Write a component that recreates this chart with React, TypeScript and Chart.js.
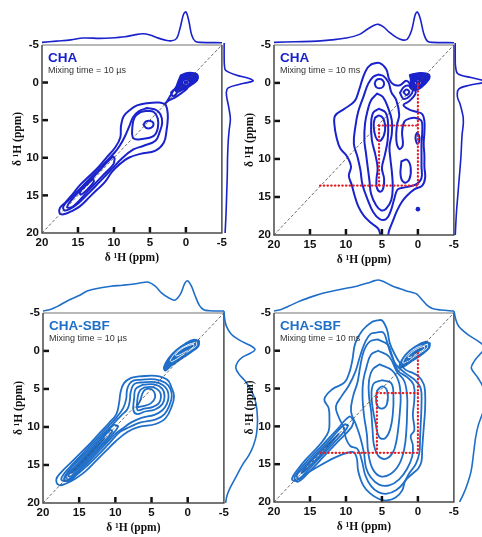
import { useEffect, useRef } from 'react';
import { Chart, registerables } from 'chart.js';

Chart.register(...registerables);

type Pt = [number, number];
type LoopKind = 'line' | 'fill' | 'white' | 'dot';
interface Loop { pts: Pt[]; kind: LoopKind; }

// ---------------- axes ----------------
const axisMin = -5;
const axisMax = 20;
const tickStep = 5;
const innerTickValues = [0, 5, 10, 15];
const axisTitle = 'δ ¹H (ppm)';
const diagonalLine: Pt[] = [[20, 20], [-5, -5]];

const panelTitles = ['CHA', 'CHA', 'CHA-SBF', 'CHA-SBF'];
const panelSubtitles = ['Mixing time = 10 µs', 'Mixing time = 10 ms', 'Mixing time = 10 µs', 'Mixing time = 10 ms'];

// ---------------- CHA, 10 µs ----------------
const cha10usOuter: Pt[] = [[2.84,2.87],[3.77,2.65],[5.4,2.74],[6.79,3.04],[7.72,3.61],[8.65,4.48],[9.02,5.78],[9.12,7.3],[9.81,8.61],[10.98,9.91],[12.14,11.22],[13.53,12.52],[14.7,13.61],[15.63,14.7],[16.79,16.0],[17.49,16.65],[17.58,17.3],[17.02,17.52],[15.86,17.09],[14.7,16.43],[13.3,15.13],[12.37,14.26],[11.21,13.17],[10.28,11.87],[9.12,10.78],[7.95,10.0],[6.33,9.48],[4.23,9.04],[3.07,7.96],[2.7,6.43],[2.51,4.7],[2.6,3.61],[2.84,2.87]];
const cha10usLevel2: Pt[] = [[5.4,3.39],[4.23,3.61],[3.53,4.26],[3.3,5.35],[3.63,6.52],[4.23,7.74],[5.86,8.4],[7.3,8.9],[8.9,10.1],[10.4,11.6],[11.9,13.1],[13.4,14.6],[14.9,16.0],[16.1,16.8],[16.9,17.0],[17.0,16.4],[15.8,15.2],[14.3,13.7],[12.8,12.2],[11.3,10.7],[9.9,9.3],[9.2,8.4],[8.5,7.2],[7.9,5.9],[7.35,4.61],[6.56,3.83],[5.4,3.39]];
const cha10usLevel3: Pt[] = [[5.4,3.74],[4.47,3.91],[3.91,4.78],[3.91,6.09],[4.47,7.09],[6.09,7.5],[7.3,7.4],[7.44,5.91],[7.16,4.7],[6.42,4.0],[5.4,3.74]];
const cha10usPeak: Pt[] = [[5.9,5.6],[5.5,5.15],[4.7,5.2],[4.5,5.6],[4.8,6.0],[5.5,6.05],[5.9,5.6]];
const cha10usRidge3: Pt[] = [[9.9,10.1],[10.15,9.85],[12.15,11.85],[14.15,13.85],[15.95,15.65],[16.5,16.6],[15.6,16.4],[13.6,14.4],[11.6,12.4],[10.1,10.9],[9.9,10.1]];
const cha10usRidgeEye: Pt[] = [[12.9,12.8],[13.9,13.7],[14.7,14.5],[14.6,14.9],[13.7,14.2],[12.8,13.2],[12.9,12.8]];
const cha10usBlob: Pt[] = [[0.74,-0.96],[-0.19,-1.3],[-1.2,-1.26],[-1.67,-0.96],[-1.58,-0.3],[-0.88,0.26],[-0.19,0.7],[0.51,1.0],[1.2,1.3],[1.44,1.0],[1.2,0.13],[0.74,-0.96]];
const cha10usNeck: Pt[] = [[1.12,0.35],[1.67,1.0],[2.23,1.87],[2.74,2.65],[2.98,2.87],[2.47,2.43],[1.67,2.09],[0.98,1.65],[0.37,1.22],[-0.19,0.78]];
const cha10usSmall: Pt[] = [[2.05,1.3],[1.67,1.0],[1.21,1.13],[1.44,1.65],[1.91,1.74],[2.05,1.3]];
const cha10usRing: Pt[] = [[0.3,0],[0.2,-0.18],[0,-0.25],[-0.2,-0.18],[-0.3,0],[-0.2,0.18],[0,0.25],[0.2,0.18],[0.3,0]];
const cha10usCentre: Pt[] = [[0, 0]];
const cha10usTopProj: Pt[] = [[20,0.02],[18,0.06],[16,0.1],[14.3,0.16],[12,0.15],[10.5,0.16],[8.5,0.2],[7,0.27],[6,0.3],[5,0.26],[4,0.17],[3,0.1],[2,0.07],[1.3,0.15],[0.8,0.5],[0.35,0.92],[0,1.0],[-0.4,0.7],[-0.8,0.25],[-1.3,0.05],[-2,0.02],[-5,0.01]];
const cha10usRightProj: Pt[] = [[-5,0.07],[-3,0.07],[-2,0.08],[-1.4,0.12],[-0.8,0.45],[-0.3,0.9],[0,1.0],[0.4,0.6],[0.9,0.2],[1.5,0.14],[2.5,0.17],[3.5,0.22],[5,0.27],[6.5,0.23],[8,0.2],[10,0.18],[12.5,0.17],[15,0.15],[17.5,0.13],[20,0.1]];

// ---------------- CHA, 10 ms ----------------
const cha10msOuter: Pt[] = [[6.4,-2.5],[5.3,-2.6],[4.4,-1.8],[4.0,-0.5],[3.4,0.2],[2.5,0.3],[1.6,-0.3],[1.0,0.3],[0.3,1.2],[1.2,2.4],[2.0,2.9],[1.2,3.5],[0.2,3.8],[-0.6,4.1],[-0.9,5.0],[-0.9,6.5],[-0.8,8.0],[-0.9,9.5],[-0.9,11.0],[-1.0,12.5],[-0.6,13.5],[0.5,14.0],[1.5,14.8],[2.2,15.6],[2.9,16.8],[3.5,18.2],[4.0,19.4],[4.3,20.4],[5.0,20.4],[5.5,19.2],[6.4,18.5],[7.5,17.5],[8.3,16.2],[8.8,14.8],[9.2,13.4],[9.6,12.2],[9.3,11.0],[9.9,9.6],[10.8,8.6],[11.3,7.2],[11.6,5.5],[11.5,4.3],[10.2,3.4],[8.8,2.4],[8.2,1.0],[7.6,-0.8],[7.0,-2.0],[6.4,-2.5]];
const cha10msLevel2: Pt[] = [[5.5,-1.1],[6.2,-0.8],[6.9,0.1],[7.6,1.9],[8.3,3.8],[8.7,5.8],[8.9,8.0],[8.4,9.7],[8.0,11.4],[7.7,13.4],[7.0,15.3],[6.2,17.0],[5.3,17.9],[4.4,17.9],[3.8,16.9],[3.3,15.3],[2.8,14.0],[1.6,13.7],[0.2,13.3],[-0.5,12.5],[-0.5,11.0],[-0.5,9.5],[-0.5,8.0],[-0.6,6.5],[-0.5,5.0],[0.3,4.6],[1.2,4.7],[1.9,5.1],[2.2,6.5],[2.1,8.2],[2.6,8.7],[3.0,7.5],[2.9,5.5],[2.6,4.2],[3.0,2.3],[3.7,1.2],[4.1,-0.1],[4.8,-0.9],[5.5,-1.1]];
const cha10msLevel3: Pt[] = [[5.67,1.4],[4.88,1.84],[4.19,3.16],[3.63,4.91],[3.63,6.67],[3.95,8.42],[3.8,10.2],[3.6,11.9],[3.5,13.7],[3.7,15.4],[4.42,16.54],[5.12,16.75],[5.81,16.1],[6.51,14.56],[6.74,12.81],[6.98,11.05],[7.21,9.3],[7.44,7.54],[7.35,5.35],[6.98,3.6],[6.51,2.28],[5.67,1.4]];
const cha10msLevel4: Pt[] = [[5.4,3.4],[4.5,3.9],[4.15,5.3],[4.2,7.5],[4.6,9.5],[5.0,11.2],[4.7,12.6],[4.8,13.8],[5.2,14.3],[5.7,13.8],[5.75,12.6],[5.6,11.2],[5.9,9.5],[6.4,7.5],[6.5,5.3],[6.2,3.9],[5.4,3.4]];
const cha10msPeak: Pt[] = [[5.95,4.56],[5.35,4.3],[4.74,4.82],[4.56,6.23],[5.12,7.54],[5.67,7.46],[6.05,6.45],[6.14,5.35],[5.95,4.56]];
const cha10msTopLoop: Pt[] = [[6.0,0.1],[5.8,-0.35],[5.35,-0.5],[4.9,-0.35],[4.7,0.1],[4.9,0.55],[5.35,0.7],[5.8,0.55],[6.0,0.1]];
const cha10msRightLoop: Pt[] = [[0.15,6.6],[-0.15,6.9],[-0.2,7.6],[0.05,8.0],[0.3,7.5],[0.3,6.9],[0.15,6.6]];
const cha10msLowerLoop: Pt[] = [[2.3,10.3],[1.5,10.1],[1.0,11.2],[1.2,12.7],[1.9,13.1],[2.4,12.2],[2.3,10.3]];
const cha10msBlob: Pt[] = [[1.16,-1.05],[0,-1.32],[-1.3,-1.23],[-1.67,-0.88],[-1.4,-0.26],[-0.7,0.44],[0,0.88],[0.7,0.96],[1.16,0.53],[1.02,-0.35],[1.16,-1.05]];
const cha10msSmall: Pt[] = [[2.0,1.2],[1.6,0.85],[1.2,1.2],[1.6,1.6],[2.0,1.2]];
const cha10msSmallOuter: Pt[] = [[2.5,1.3],[1.9,0.5],[1.1,0.4],[0.7,1.0],[1.2,1.8],[2.0,2.1],[2.5,1.3]];
const cha10msRing: Pt[] = [[0.3,0],[0.2,-0.18],[0,-0.25],[-0.2,-0.18],[-0.3,0],[-0.2,0.18],[0,0.25],[0.2,0.18],[0.3,0]];
const cha10msDots: Pt[] = [[0, 0], [0, 16.6]];
const cha10msRed: Pt[][] = [[[0,0.1],[0,13.5]], [[5.4,5.6],[0,5.6]], [[5.4,5.6],[5.4,13.5]], [[13.6,13.5],[0,13.5]]];
const cha10msTopProj: Pt[] = [[20,0.02],[17,0.04],[14,0.06],[12,0.1],[10,0.16],[8.2,0.27],[7,0.45],[6,0.58],[5.5,0.6],[4.8,0.52],[4,0.35],[3,0.18],[2.2,0.1],[1.5,0.12],[0.9,0.4],[0.4,0.9],[0.1,1.0],[-0.3,0.8],[-0.8,0.3],[-1.3,0.06],[-2,0.02],[-5,0.01]];
const cha10msRightProj: Pt[] = [[-5,0.04],[-3,0.04],[-2,0.05],[-1,0.12],[-0.5,0.55],[-0.1,0.95],[0.1,1.0],[0.5,0.5],[1.0,0.15],[2,0.11],[3,0.2],[4.5,0.29],[5.5,0.3],[7,0.26],[10,0.22],[13,0.16],[15,0.12],[17,0.08],[20,0.04]];

// ---------------- CHA-SBF, 10 µs ----------------
const sbf10usOuter: Pt[] = [[6.73,3.36],[4.42,3.28],[2.81,3.8],[2.21,4.89],[1.89,5.98],[2.21,7.29],[3.04,8.82],[4.42,9.61],[6.73,10.0],[8.34,10.66],[9.95,11.88],[11.34,13.19],[12.72,14.5],[14.1,15.81],[15.48,16.77],[16.87,17.47],[17.79,17.64],[18.16,16.9],[17.56,16.03],[16.18,14.72],[14.79,13.41],[13.41,12.1],[12.03,10.66],[10.88,9.48],[9.86,8.3],[9.49,6.86],[9.26,5.33],[8.8,4.24],[7.88,3.58],[6.73,3.36]];
const sbf10usLevel2: Pt[] = [[6.6,3.8],[4.5,3.75],[3.1,4.2],[2.4,5.0],[2.2,6.0],[2.5,7.1],[3.2,8.3],[4.4,9.0],[6.5,9.4],[8.0,10.0],[9.35,10.65],[10.85,12.15],[12.35,13.65],[13.9,15.1],[15.55,16.45],[16.6,17.05],[17.35,17.05],[17.4,16.6],[16.5,15.5],[14.5,13.5],[12.5,11.5],[11.0,9.95],[9.8,8.7],[8.9,7.5],[8.5,6.3],[8.4,5.2],[8.1,4.4],[7.5,3.9],[6.6,3.8]];
const sbf10usLevel3: Pt[] = [[6.5,4.15],[4.5,4.1],[3.4,4.5],[2.8,5.2],[2.65,6.1],[2.9,7.0],[3.5,7.8],[4.6,8.4],[6.4,8.8],[7.8,9.4],[9.0,10.2],[10.05,10.95],[11.55,12.45],[13.55,14.45],[15.1,15.9],[16.05,16.95],[16.75,17.15],[17.1,16.8],[16.35,15.65],[14.35,13.65],[12.35,11.65],[10.35,9.65],[9.2,8.5],[8.3,7.6],[8.0,6.5],[7.9,5.5],[7.6,4.6],[7.2,4.25],[6.5,4.15]];
const sbf10usLevel4: Pt[] = [[6.2,4.45],[4.6,4.4],[3.5,5.0],[3.2,6.0],[3.5,7.0],[4.5,7.7],[6.0,8.0],[7.0,8.3],[7.5,7.8],[7.4,6.2],[7.2,5.0],[6.2,4.45]];
const sbf10usLevel5: Pt[] = [[6.0,4.8],[4.8,4.75],[3.9,5.3],[3.7,6.1],[4.0,6.9],[4.9,7.4],[6.0,7.6],[6.9,7.8],[7.0,7.2],[6.9,6.0],[6.6,5.2],[6.0,4.8]];
const sbf10usPeak: Pt[] = [[7.1,7.4],[6.6,6.6],[6.1,5.3],[5.35,4.95],[4.7,5.3],[4.5,6.1],[5.1,6.9],[6.3,7.3],[7.1,7.4]];
const sbf10usRidge1: Pt[] = [[9.6,9.9],[10.25,9.75],[12.2,11.8],[14.2,13.8],[16.2,15.8],[16.85,16.55],[16.5,16.9],[15.7,16.3],[13.7,14.3],[11.7,12.3],[9.9,10.4],[9.6,9.9]];
const sbf10usRidge2: Pt[] = [[10.4,10.6],[10.7,10.4],[12.6,12.35],[14.6,14.35],[16.1,15.9],[16.5,16.35],[16.25,16.55],[15.3,15.65],[13.3,13.65],[11.3,11.65],[10.4,10.6]];
const sbf10usRidge3: Pt[] = [[11.5,11.5],[13.5,13.45],[15.6,15.5],[16.0,16.0],[15.4,15.55],[13.4,13.55],[11.5,11.5]];
const sbf10usEllipse: Pt[] = [[-1.6,-1.3],[-0.9,-1.5],[0.3,-1.0],[1.6,-0.1],[2.6,0.9],[3.3,2.1],[3.1,2.6],[2.2,1.9],[0.8,1.0],[-0.6,0.1],[-1.5,-0.6],[-1.6,-1.3]];
const sbf10usEllipseIn1: Pt[] = [[-1.2,-1.15],[0.1,-0.75],[1.5,0.1],[2.4,1.2],[2.2,1.4],[0.8,0.6],[-0.5,-0.2],[-1.2,-0.7],[-1.2,-1.15]];
const sbf10usEllipseIn2: Pt[] = [[-0.8,-0.9],[0.6,-0.4],[1.7,0.5],[1.5,0.65],[0.2,0.05],[-0.8,-0.55],[-0.8,-0.9]];
const sbf10usTopProj: Pt[] = [[20,0.0],[19,0.05],[18,0.15],[16.6,0.33],[15,0.5],[13.8,0.65],[12,0.75],[10.6,0.8],[9,0.83],[7.4,0.87],[6.2,0.92],[5.4,0.93],[4.5,0.8],[3.6,0.58],[2.6,0.42],[1.8,0.35],[1.0,0.55],[0.4,0.9],[0,0.97],[-0.5,0.8],[-1,0.5],[-1.6,0.18],[-2.2,0.04],[-3,0.01],[-5,0.0]];
const sbf10usRightProj: Pt[] = [[-5,0.0],[-4,0.02],[-3,0.08],[-2,0.23],[-1.2,0.5],[-0.5,0.85],[0,1.0],[0.5,0.85],[1.0,0.6],[1.6,0.45],[2.4,0.38],[3.2,0.48],[4.2,0.7],[5.5,0.9],[7,1.03],[9,1.08],[11,1.05],[12.5,0.95],[13.8,0.8],[15,0.6],[16.5,0.4],[18,0.2],[19,0.1],[20,0.05]];

// ---------------- CHA-SBF, 10 ms ----------------
const sbf10msOuter: Pt[] = [[5.67,-4.0],[4.98,-4.0],[4.3,-2.8],[3.9,-1.0],[3.2,0.5],[2.6,1.5],[1.75,2.5],[0.8,2.9],[-0.1,3.4],[-0.8,4.4],[-1.0,5.5],[-1.0,7.7],[-0.8,10.3],[-0.6,12.9],[-0.5,14.6],[-0.1,15.5],[0.8,16.3],[1.75,17.2],[2.2,18.5],[3.1,19.4],[4.3,19.8],[5.4,19.6],[6.6,18.9],[7.6,17.8],[8.3,15.9],[8.5,14.2],[9.0,13.4],[11.0,13.9],[13.3,15.0],[15.6,16.3],[17.0,17.2],[17.5,17.0],[17.3,16.5],[16.8,15.8],[15.6,14.4],[14.3,13.1],[13.2,11.9],[12.4,10.6],[12.3,9.0],[12.4,7.6],[13.0,6.4],[11.9,5.1],[10.2,4.2],[9.5,2.8],[9.1,1.2],[8.7,-1.0],[7.7,-2.7],[6.4,-3.8],[5.67,-4.0]];
const sbf10msLevel2: Pt[] = [[5.8,-2.4],[4.8,-2.4],[4.3,-1.2],[3.7,0.6],[3.0,1.9],[1.7,3.0],[0.4,3.9],[-0.4,5.0],[-0.5,7.0],[-0.4,9.5],[-0.3,11.5],[-0.2,13.5],[0.3,15.0],[1.2,16.2],[2.0,17.5],[3.0,18.4],[4.3,18.9],[5.5,18.7],[6.5,17.9],[7.3,16.5],[7.8,14.5],[8.4,13.0],[9.4,12.6],[10.0,11.6],[10.3,10.2],[11.0,8.8],[11.4,7.4],[10.6,6.0],[9.6,4.6],[8.7,2.8],[8.0,0.6],[7.3,-1.2],[6.6,-2.2],[5.8,-2.4]];
const sbf10msLevel3: Pt[] = [[5.6,-1.5],[4.2,-0.8],[3.6,0.6],[2.8,2.6],[1.5,3.5],[0.6,4.5],[0.5,6.5],[0.7,8.5],[0.5,10.5],[1.0,11.3],[0.7,12.5],[0.8,14.0],[1.5,15.6],[2.6,17.0],[4.0,17.8],[5.4,17.7],[6.5,16.8],[7.2,15.5],[7.5,13.5],[8.0,11.5],[8.6,9.8],[9.3,8.0],[9.0,6.0],[8.4,4.2],[8.0,2.0],[7.5,0.0],[6.7,-1.2],[5.6,-1.5]];
const sbf10msLevel4: Pt[] = [[5.5,0.0],[4.0,0.8],[2.9,2.8],[1.9,4.0],[1.5,6.0],[1.5,8.0],[1.6,10.5],[1.9,13.0],[2.6,15.0],[3.8,16.3],[5.2,16.6],[6.3,15.6],[6.9,13.5],[7.1,11.0],[7.5,8.5],[7.7,6.0],[7.6,4.0],[7.1,2.0],[6.5,0.5],[5.5,0.0]];
const sbf10msLevel5: Pt[] = [[5.3,1.8],[3.6,2.6],[2.7,4.0],[2.4,6.0],[2.5,8.0],[2.7,10.0],[3.0,12.0],[3.5,13.5],[4.5,14.3],[5.5,13.9],[6.1,12.5],[6.3,10.5],[6.5,8.0],[6.8,6.0],[6.8,4.0],[6.3,2.5],[5.3,1.8]];
const sbf10msLevel6: Pt[] = [[5.0,3.9],[3.7,4.3],[3.4,6.0],[3.5,8.5],[3.9,10.5],[4.6,11.6],[5.4,11.4],[5.9,9.5],[6.3,7.5],[6.45,5.5],[6.1,4.3],[5.0,3.9]];
const sbf10msPeak: Pt[] = [[5.67,5.28],[4.98,4.72],[4.29,5.28],[4.29,7.01],[4.98,7.66],[5.67,7.23],[5.81,6.15],[5.67,5.28]];
const sbf10msRidge1: Pt[] = [[8.9,9.3],[9.5,8.7],[11.4,10.6],[13.4,12.6],[15.4,14.6],[16.9,16.3],[17.15,17.0],[16.6,17.3],[15.05,15.95],[13.05,13.95],[11.05,11.95],[9.3,10.2],[8.9,9.3]];
const sbf10msRidge2: Pt[] = [[9.7,9.9],[10.2,9.75],[12.2,11.75],[14.2,13.75],[16.2,15.75],[16.85,16.5],[16.45,16.95],[15.75,16.25],[13.75,14.25],[11.75,12.25],[10.0,10.4],[9.7,9.9]];
const sbf10msRidge3: Pt[] = [[11.0,11.0],[13.1,12.9],[15.6,15.4],[16.2,16.2],[15.4,15.6],[12.9,13.1],[11.0,11.0]];
const sbf10msEllipse: Pt[] = [[-1.7,-1.0],[-1.0,-1.2],[0.37,-0.56],[1.75,0.52],[2.44,1.6],[2.58,2.25],[1.98,2.12],[0.83,1.39],[-0.55,0.52],[-1.57,-0.35],[-1.7,-1.0]];
const sbf10msEllipseIn1: Pt[] = [[-1.3,-0.85],[0.3,-0.35],[1.7,0.8],[2.1,1.6],[1.6,1.5],[0.5,0.8],[-0.8,0.0],[-1.3,-0.4],[-1.3,-0.85]];
const sbf10msEllipseIn2: Pt[] = [[-0.9,-0.6],[0.4,-0.1],[1.4,0.8],[1.1,0.9],[0.0,0.3],[-0.9,-0.25],[-0.9,-0.6]];
const sbf10msRed: Pt[][] = [[[0,0.3],[0,13.5]], [[5.7,5.6],[0,5.6]], [[5.7,5.6],[5.7,13.5]], [[13.5,13.5],[0,13.5]]];
const sbf10msTopProj: Pt[] = [[20,0.0],[19,0.05],[18,0.15],[16.3,0.33],[14.5,0.48],[13.1,0.58],[11.5,0.66],[9.8,0.74],[8.5,0.8],[7,0.9],[6,0.98],[5.5,1.0],[4.8,0.95],[3.5,0.8],[2.5,0.72],[1.5,0.64],[0.8,0.6],[0.2,0.55],[-0.5,0.38],[-1.2,0.2],[-2,0.08],[-3.2,0.03],[-5,0.0]];
const sbf10msRightProj: Pt[] = [[-5,0.0],[-4,0.05],[-3,0.15],[-1.9,0.45],[-1,0.8],[-0.2,1.0],[0.6,0.85],[1.6,0.65],[2.5,0.56],[3.8,0.78],[5.1,0.95],[6.5,1.0],[8,0.95],[10,0.78],[11.5,0.7],[13,0.65],[16,0.55],[18,0.4],[19,0.3],[20,0.18]];

// ---------------- layout / style ----------------
const SANS = '"Liberation Sans", Arial, Helvetica, sans-serif';
const SERIF = '"Liberation Serif", "Times New Roman", serif';
const YW = 32, PT = 8, PR = 8, XH = 32;
const PROJ_PX = 31;
const TOP_H = 35;
const BLUE_TOP = '#1a22cc';
const BLUE_BOTTOM = '#1f6fc9';
const RED = '#e51e25';

interface Panel {
  title: string; subtitle: string; color: string; lineWidth: number;
  L: number; R: number; T: number; B: number;
  loops: Loop[]; red: Pt[][];
  top: Pt[]; right: Pt[]; rightWidth: number;
}

const L = (pts: Pt[]): Loop => ({ pts, kind: 'line' });
const F = (pts: Pt[]): Loop => ({ pts, kind: 'fill' });
const W = (pts: Pt[]): Loop => ({ pts, kind: 'white' });
const D = (pts: Pt[]): Loop => ({ pts, kind: 'dot' });

const panels: Panel[] = [
  {
    title: panelTitles[0], subtitle: panelSubtitles[0], color: BLUE_TOP, lineWidth: 2,
    L: 42, R: 222, T: 43, B: 233,
    loops: [L(cha10usOuter), L(cha10usLevel2), L(cha10usLevel3), L(cha10usPeak), L(cha10usRidge3), L(cha10usRidgeEye),
      L(cha10usNeck), L(cha10usSmall), F(cha10usBlob), W(cha10usRing), D(cha10usCentre)],
    red: [], top: cha10usTopProj, right: cha10usRightProj, rightWidth: 34,
  },
  {
    title: panelTitles[1], subtitle: panelSubtitles[1], color: BLUE_TOP, lineWidth: 2,
    L: 274, R: 454, T: 43, B: 235,
    loops: [L(cha10msOuter), L(cha10msLevel2), L(cha10msLevel3), L(cha10msLevel4), L(cha10msPeak), L(cha10msTopLoop),
      L(cha10msRightLoop), L(cha10msLowerLoop), L(cha10msSmallOuter), L(cha10msSmall), F(cha10msBlob), W(cha10msRing), D(cha10msDots)],
    red: cha10msRed, top: cha10msTopProj, right: cha10msRightProj, rightWidth: 29,
  },
  {
    title: panelTitles[2], subtitle: panelSubtitles[2], color: BLUE_BOTTOM, lineWidth: 1.8,
    L: 43, R: 224, T: 311, B: 503,
    loops: [L(sbf10usOuter), L(sbf10usLevel2), L(sbf10usLevel3), L(sbf10usLevel4), L(sbf10usLevel5), L(sbf10usPeak),
      L(sbf10usRidge1), L(sbf10usRidge2), L(sbf10usRidge3), F(sbf10usEllipse), W(sbf10usEllipseIn1), W(sbf10usEllipseIn2)],
    red: [], top: sbf10usTopProj, right: sbf10usRightProj, rightWidth: 40,
  },
  {
    title: panelTitles[3], subtitle: panelSubtitles[3], color: BLUE_BOTTOM, lineWidth: 1.8,
    L: 274, R: 454, T: 311, B: 502,
    loops: [L(sbf10msOuter), L(sbf10msLevel2), L(sbf10msLevel3), L(sbf10msLevel4), L(sbf10msLevel5), L(sbf10msLevel6), L(sbf10msPeak),
      L(sbf10msRidge1), L(sbf10msRidge2), L(sbf10msRidge3), F(sbf10msEllipse), W(sbf10msEllipseIn1), W(sbf10msEllipseIn2)],
    red: sbf10msRed, top: sbf10msTopProj, right: sbf10msRightProj, rightWidth: 29,
  },
];

const xy = (pts: Pt[]) => pts.map(([x, y]) => ({ x, y }));
const yx = (pts: Pt[]) => pts.map(([ppm, v]) => ({ x: v, y: ppm }));

function loopDataset(l: Loop, color: string, width: number): any {
  const base = { data: xy(l.pts), showLine: true, pointRadius: 0, pointHoverRadius: 0, tension: 0.4, borderJoinStyle: 'round', borderCapStyle: 'round' };
  if (l.kind === 'fill') return { ...base, borderColor: color, backgroundColor: color, borderWidth: 1.5, fill: 'shape' };
  if (l.kind === 'white') return { ...base, borderColor: '#ffffff', borderWidth: 0.9, fill: false };
  if (l.kind === 'dot') return { data: xy(l.pts), showLine: false, pointRadius: 2.3, pointBackgroundColor: color, pointBorderWidth: 0, pointHoverRadius: 0 };
  return { ...base, borderColor: color, borderWidth: width, fill: false };
}

const framePlugin = {
  id: 'nmrFrame',
  afterDraw(chart: any, _args: any, opts: any) {
    const { ctx, chartArea: a, scales } = chart;
    ctx.save();
    ctx.strokeStyle = '#111';
    ctx.lineWidth = 2.5;
    for (const v of innerTickValues) {
      const py = scales.y.getPixelForValue(v);
      ctx.beginPath(); ctx.moveTo(a.left, py); ctx.lineTo(a.left + 6, py); ctx.stroke();
      const px = scales.x.getPixelForValue(v);
      ctx.beginPath(); ctx.moveTo(px, a.bottom); ctx.lineTo(px, a.bottom - 6); ctx.stroke();
    }
    ctx.lineWidth = 1.5;
    ctx.strokeStyle = '#a0a0a0';
    ctx.beginPath(); ctx.moveTo(a.left, a.top); ctx.lineTo(a.right, a.top); ctx.stroke();
    ctx.strokeStyle = '#4a4a4a';
    ctx.beginPath(); ctx.moveTo(a.right, a.top); ctx.lineTo(a.right, a.bottom); ctx.lineTo(a.left, a.bottom); ctx.lineTo(a.left, a.top); ctx.stroke();
    ctx.textAlign = 'left';
    ctx.textBaseline = 'alphabetic';
    ctx.fillStyle = opts.color;
    ctx.font = `bold 13.5px ${SANS}`;
    ctx.fillText(opts.title, a.left + 6, a.top + 17.5);
    ctx.fillStyle = '#333';
    ctx.font = `9px ${SANS}`;
    ctx.fillText(opts.subtitle, a.left + 6, a.top + 28.5);
    ctx.restore();
  },
};

function makeMain(canvas: HTMLCanvasElement, p: Panel) {
  const ds: any[] = p.loops.map((l) => loopDataset(l, p.color, p.lineWidth));
  ds.push({ data: xy(diagonalLine), showLine: true, pointRadius: 0, borderColor: '#444', borderWidth: 0.8, borderDash: [3, 2], tension: 0 });
  p.red.forEach((seg) => ds.push({ data: xy(seg), showLine: true, pointRadius: 0, borderColor: RED, borderWidth: 2.2, borderDash: [0.5, 3.2], borderCapStyle: 'round', tension: 0 }));
  ds.reverse();
  const tickFont = { family: SANS, size: 11.5, weight: 'bold' as const };
  const titleFont = { family: SERIF, size: 11.5, weight: 'bold' as const };
  return new Chart(canvas, {
    type: 'scatter',
    data: { datasets: ds },
    options: {
      animation: false, responsive: false, events: [],
      layout: { padding: { left: 0, top: PT, right: PR, bottom: 0 } },
      plugins: { legend: { display: false }, tooltip: { enabled: false }, nmrFrame: { title: p.title, subtitle: p.subtitle, color: p.color } } as any,
      scales: {
        x: {
          type: 'linear', min: axisMin, max: axisMax, reverse: true,
          afterFit: (s: any) => { s.height = XH; },
          grid: { display: false, drawTicks: false }, border: { display: false },
          ticks: { stepSize: tickStep, autoSkip: false, maxRotation: 0, padding: 3, color: '#111', font: tickFont },
          title: { display: true, text: axisTitle, color: '#111', font: titleFont, padding: { top: 0, bottom: 0 } },
        },
        y: {
          type: 'linear', min: axisMin, max: axisMax, reverse: true,
          afterFit: (s: any) => { s.width = YW; },
          grid: { display: false, drawTicks: false }, border: { display: false },
          ticks: { stepSize: tickStep, autoSkip: false, padding: 3, color: '#111', font: tickFont },
          title: { display: true, text: axisTitle, color: '#111', font: titleFont, padding: { top: 1, bottom: 0 } },
        },
      },
    } as any,
    plugins: [framePlugin],
  });
}

function projDataset(data: any[], color: string) {
  return { data, showLine: true, pointRadius: 0, borderColor: color, borderWidth: 1.6, tension: 0.35, borderJoinStyle: 'round' };
}

function makeTop(canvas: HTMLCanvasElement, p: Panel) {
  return new Chart(canvas, {
    type: 'scatter',
    data: { datasets: [projDataset(xy(p.top), p.color)] as any },
    options: {
      animation: false, responsive: false, events: [],
      layout: { padding: 0 },
      plugins: { legend: { display: false }, tooltip: { enabled: false } },
      scales: {
        x: { type: 'linear', display: false, min: axisMin, max: axisMax, reverse: true },
        y: { type: 'linear', display: false, min: -1 / PROJ_PX, max: (TOP_H - 1) / PROJ_PX },
      },
    } as any,
  });
}

function makeRight(canvas: HTMLCanvasElement, p: Panel) {
  return new Chart(canvas, {
    type: 'scatter',
    data: { datasets: [projDataset(yx(p.right), p.color)] as any },
    options: {
      animation: false, responsive: false, events: [],
      layout: { padding: 0 },
      plugins: { legend: { display: false }, tooltip: { enabled: false } },
      scales: {
        x: { type: 'linear', display: false, min: -1 / PROJ_PX, max: (p.rightWidth - 1) / PROJ_PX },
        y: { type: 'linear', display: false, min: axisMin, max: axisMax, reverse: true },
      },
    } as any,
  });
}

export default function App() {
  const refs = useRef<HTMLCanvasElement[]>([]);
  useEffect(() => {
    const charts: Chart[] = [];
    panels.forEach((p, i) => {
      charts.push(makeMain(refs.current[i * 3], p));
      charts.push(makeTop(refs.current[i * 3 + 1], p));
      charts.push(makeRight(refs.current[i * 3 + 2], p));
    });
    return () => charts.forEach((c) => c.destroy());
  }, []);

  const boxes = panels.flatMap((p) => [
    { left: p.L - YW, top: p.T - PT, width: YW + (p.R - p.L) + PR, height: PT + (p.B - p.T) + XH },
    { left: p.L, top: p.T + 1 - TOP_H, width: p.R - p.L, height: TOP_H },
    { left: p.R - 1, top: p.T, width: p.rightWidth, height: p.B - p.T },
  ]);

  return (
    <div style={{ position: 'fixed', left: 0, top: 0, width: 482, height: 537, background: '#fff', overflow: 'hidden' }}>
      {boxes.map((b, i) => (
        <canvas
          key={i}
          ref={(el) => { if (el) refs.current[i] = el; }}
          width={b.width}
          height={b.height}
          style={{ position: 'absolute', left: b.left, top: b.top, width: b.width, height: b.height }}
        />
      ))}
    </div>
  );
}
